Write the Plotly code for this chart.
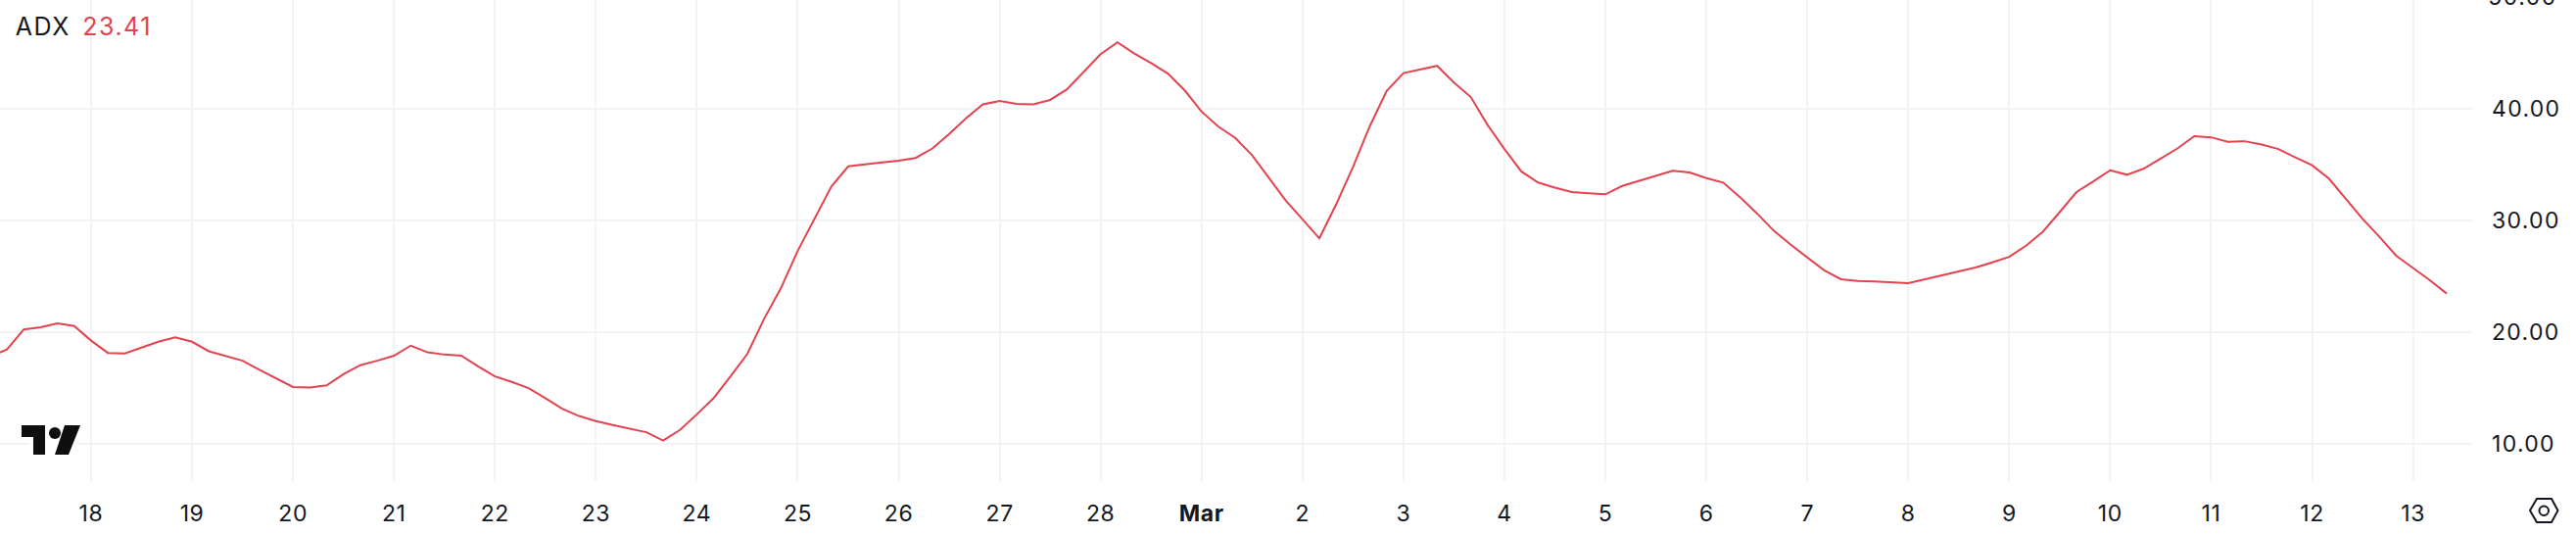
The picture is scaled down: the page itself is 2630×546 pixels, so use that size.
import plotly.graph_objects as go
import pandas as pd

START = "2025-02-17 00:00"
STEP_HOURS = 4
adx_values = [
    17.8, 18.4, 20.2, 20.4, 20.75, 20.5,
    19.2, 18.1, 18.05, 18.6, 19.1, 19.5,
    19.1, 18.25, 17.8, 17.4, 16.6, 15.8,
    15.05, 15.0, 15.2, 16.2, 17.0, 17.4,
    17.85, 18.75, 18.15, 17.95, 17.85, 16.9,
    16.0, 15.5, 14.95, 14.05, 13.1, 12.45,
    12.0, 11.65, 11.3, 11.0, 10.25, 11.2,
    12.6, 14.05, 16.0, 18.0, 21.15, 23.9,
    27.25, 30.15, 33.0, 34.8, 35.0, 35.15,
    35.3, 35.55, 36.4, 37.7, 39.1, 40.35,
    40.65, 40.4, 40.35, 40.75, 41.7, 43.25,
    44.85, 45.9, 44.9, 44.05, 43.1, 41.6,
    39.7, 38.35, 37.35, 35.8, 33.8, 31.75,
    30.05, 28.35, 31.4, 34.75, 38.4, 41.55,
    43.15, 43.5, 43.8, 42.3, 41.0, 38.5,
    36.35, 34.35, 33.35, 32.9, 32.5, 32.4,
    32.3, 33.05, 33.5, 34.0, 34.4, 34.25,
    33.75, 33.35, 32.05, 30.6, 29.05, 27.8,
    26.65, 25.5, 24.7, 24.55, 24.5, 24.4,
    24.35, 24.7, 25.05, 25.4, 25.75, 26.2,
    26.7, 27.7, 28.95, 30.7, 32.5, 33.45,
    34.45, 34.05, 34.6, 35.5, 36.4, 37.5,
    37.4, 37.0, 37.05, 36.75, 36.35, 35.6,
    34.9, 33.7, 31.95, 30.1, 28.5, 26.8,
    25.7, 24.6, 23.41,
]
x_tick_dates = list(pd.date_range("2025-02-18", "2025-03-13", freq="D"))
x_tick_labels = [str(d.day) for d in x_tick_dates]
x_tick_labels[x_tick_labels.index("1")] = "<b>Mar</b>"
y_tick_values = [10, 20, 30, 40]
y_clipped_tick = 50
legend_name = "ADX"
legend_value = "23.41"

WIDTH, HEIGHT = 2630, 546
PLOT_RIGHT, PLOT_BOTTOM = 2524, 491
PX_PER_DAY = 103.07
TICK0_PX = 93
Y40_PX, PX_PER_UNIT = 110.5, 11.4

INK = "#131722"
RED = "#E2434F"
GRID = "#F3F3F3"

dates = pd.date_range(START, periods=len(adx_values), freq=f"{STEP_HOURS}h")
t0 = pd.Timestamp("2025-02-18")
x_start = t0 - pd.Timedelta(days=TICK0_PX / PX_PER_DAY)
x_end = t0 + pd.Timedelta(days=(PLOT_RIGHT - TICK0_PX) / PX_PER_DAY)
y_low = 40 - (PLOT_BOTTOM - Y40_PX) / PX_PER_UNIT
y_high = 40 + Y40_PX / PX_PER_UNIT


def fx(px):
    return px / PLOT_RIGHT


def fy(py):
    return 1 - py / PLOT_BOTTOM


def path(points, close=True):
    s = "M" + " L".join(f"{fx(a):.6f},{fy(b):.6f}" for a, b in points)
    return s + (" Z" if close else "")


def paper_shape(**kw):
    return dict(xref="paper", yref="paper", **kw)


shapes = [
    paper_shape(type="rect", x0=fx(30), x1=fx(79), y0=fy(449), y1=fy(456),
                fillcolor="white", line_width=0, layer="above"),
    paper_shape(type="path", path=path([(22, 434), (46, 434), (46, 464), (34, 464), (34, 446), (22, 446)]),
                fillcolor="#0F0F0F", line_width=0, layer="above"),
    paper_shape(type="path", path=path([(66, 434), (82, 434), (70, 464), (56, 464)]),
                fillcolor="#0F0F0F", line_width=0, layer="above"),
    paper_shape(type="circle", x0=fx(50), x1=fx(62), y0=fy(436), y1=fy(448),
                fillcolor="#0F0F0F", line_width=0, layer="above"),
    paper_shape(type="path", path=path([(2583, 521), (2590, 509), (2605, 509), (2611.5, 521), (2605, 533), (2590, 533)]),
                fillcolor="rgba(0,0,0,0)", line=dict(color=INK, width=2), layer="above"),
    paper_shape(type="circle", x0=fx(2592.5), x1=fx(2602), y0=fy(516.5), y1=fy(526),
                fillcolor="rgba(0,0,0,0)", line=dict(color=INK, width=2), layer="above"),
]

annotations = [
    dict(text=legend_name, xref="paper", yref="paper", x=fx(16), y=fy(27), xanchor="left", yanchor="middle",
         showarrow=False, font=dict(color=INK, size=25)),
    dict(text=legend_value, xref="paper", yref="paper", x=fx(85.5), y=fy(27), xanchor="left", yanchor="middle",
         showarrow=False, font=dict(color=RED, size=25)),
    dict(text=f"{y_clipped_tick:.2f}", xref="paper", yref="paper", x=fx(2542), y=fy(-3.5), xanchor="left",
         yanchor="middle", showarrow=False, font=dict(color=INK, size=23)),
]

fig = go.Figure(
    go.Scatter(x=dates, y=adx_values, mode="lines", line=dict(color=RED, width=2),
               hoverinfo="skip", showlegend=False)
)
fig.update_layout(
    width=WIDTH,
    height=HEIGHT,
    margin=dict(l=0, r=WIDTH - PLOT_RIGHT, t=0, b=HEIGHT - PLOT_BOTTOM, pad=0),
    paper_bgcolor="white",
    plot_bgcolor="white",
    font=dict(family="Inter, Roboto, sans-serif", color=INK, size=23),
    shapes=shapes,
    annotations=annotations,
    xaxis=dict(
        range=[x_start, x_end], tickmode="array", tickvals=x_tick_dates, ticktext=x_tick_labels,
        showgrid=True, gridcolor=GRID, gridwidth=2, ticks="", showline=False, zeroline=False,
        ticklabelstandoff=17, tickangle=0,
    ),
    yaxis=dict(
        range=[y_low, y_high], side="right", tickmode="array", tickvals=y_tick_values, tickformat=".2f",
        showgrid=True, gridcolor=GRID, gridwidth=2, ticks="", showline=False, zeroline=False,
        ticklabelstandoff=19,
    ),
)
post = """
document.body.style.margin='0';
var st=document.createElement('style');
st.textContent='.annotation-text{letter-spacing:1.5px}.ytick text{letter-spacing:1.3px}.xtick text{letter-spacing:0.6px}';
document.head.appendChild(st);
"""
fig.write_html("out.html", post_script=post, config={"displayModeBar": False})
